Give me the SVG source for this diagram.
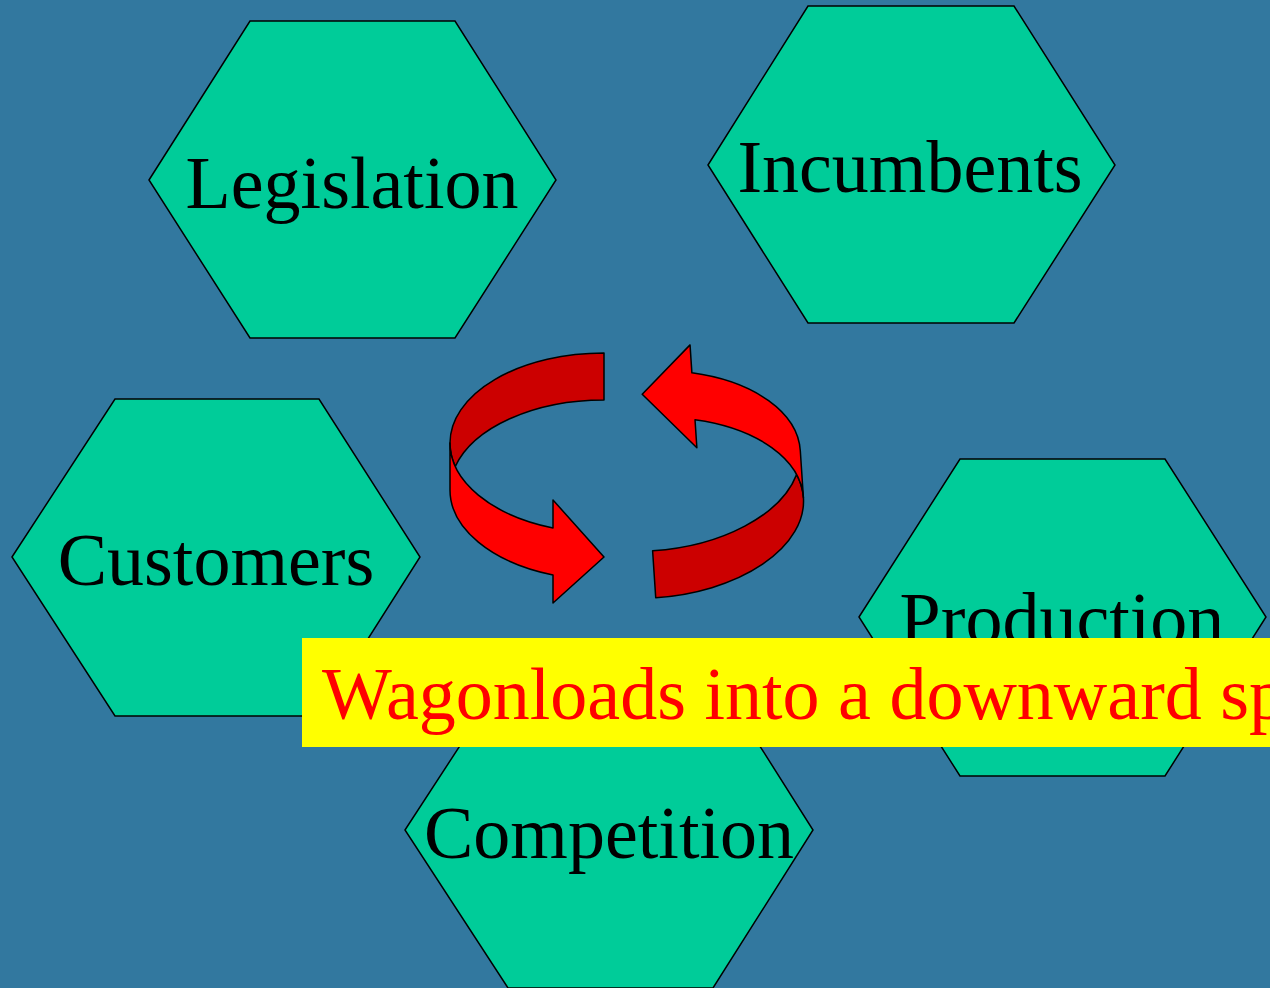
<svg xmlns="http://www.w3.org/2000/svg" width="1270" height="988" viewBox="0 0 1270 988">
  <style>
    .hex { fill: #00CC99; stroke: #000; stroke-width: 1.5; }
    .label { font-family: "Liberation Serif", "Times New Roman", serif; font-size: 74px; fill: #000; text-anchor: middle; }
    .bright { fill: #FF0000; stroke: #000; stroke-width: 1.5; stroke-linejoin: round; }
    .dark { fill: #CC0000; stroke: #000; stroke-width: 1.5; stroke-linejoin: round; }
    .banner { fill: #FFFF00; }
    .banner-text { font-family: "Liberation Serif", "Times New Roman", serif; font-size: 74px; fill: #FF0000; }
  </style>
  <defs>
    <!-- one half of the cycle symbol: a ribbon around a cylinder ending in an arrowhead -->
    <g id="ribbon">
      <path class="dark" d="M604,353 A154,90 0 0 0 450,443 A154,90 0 0 0 455.3,466.5 A154,90 0 0 1 604,400 Z"/>
      <path class="bright" d="M450,443 L450,490 A154,90 0 0 0 553,575 L553,603 L604,557 L553,500 L553,528 A154,90 0 0 1 450,443 Z"/>
    </g>
  </defs>

  <rect width="1270" height="988" fill="#32789F"/>

  <g id="legislation">
    <polygon class="hex" points="149,180 250,21 455,21 556,180 455,338 250,338"/>
    <text class="label" x="352" y="208">Legislation</text>
  </g>
  <g id="incumbents">
    <polygon class="hex" points="708,165 808,6 1014,6 1115,165 1014,323 808,323"/>
    <text class="label" x="910" y="192">Incumbents</text>
  </g>
  <g id="customers">
    <polygon class="hex" points="12,557 115,399 319,399 420,557 319,716 115,716"/>
    <text class="label" x="216" y="585">Customers</text>
  </g>
  <g id="production">
    <polygon class="hex" points="859,617 960,459 1165,459 1266,617 1165,776 960,776"/>
    <text class="label" x="1062" y="644">Production</text>
  </g>
  <g id="competition">
    <polygon class="hex" points="405,830 508,672 713,672 813,830 713,988 508,988"/>
    <text class="label" x="609" y="858">Competition</text>
  </g>

  <g id="connectors">
    <use href="#ribbon"/>
    <use href="#ribbon" transform="matrix(-0.9978,0.0663,-0.0663,-0.9978,1281.8,909.9)"/>
  </g>

  <g id="banner">
    <rect class="banner" x="302" y="638" width="1000" height="109"/>
    <text class="banner-text" x="322" y="719">Wagonloads into a downward spiral</text>
  </g>
</svg>
